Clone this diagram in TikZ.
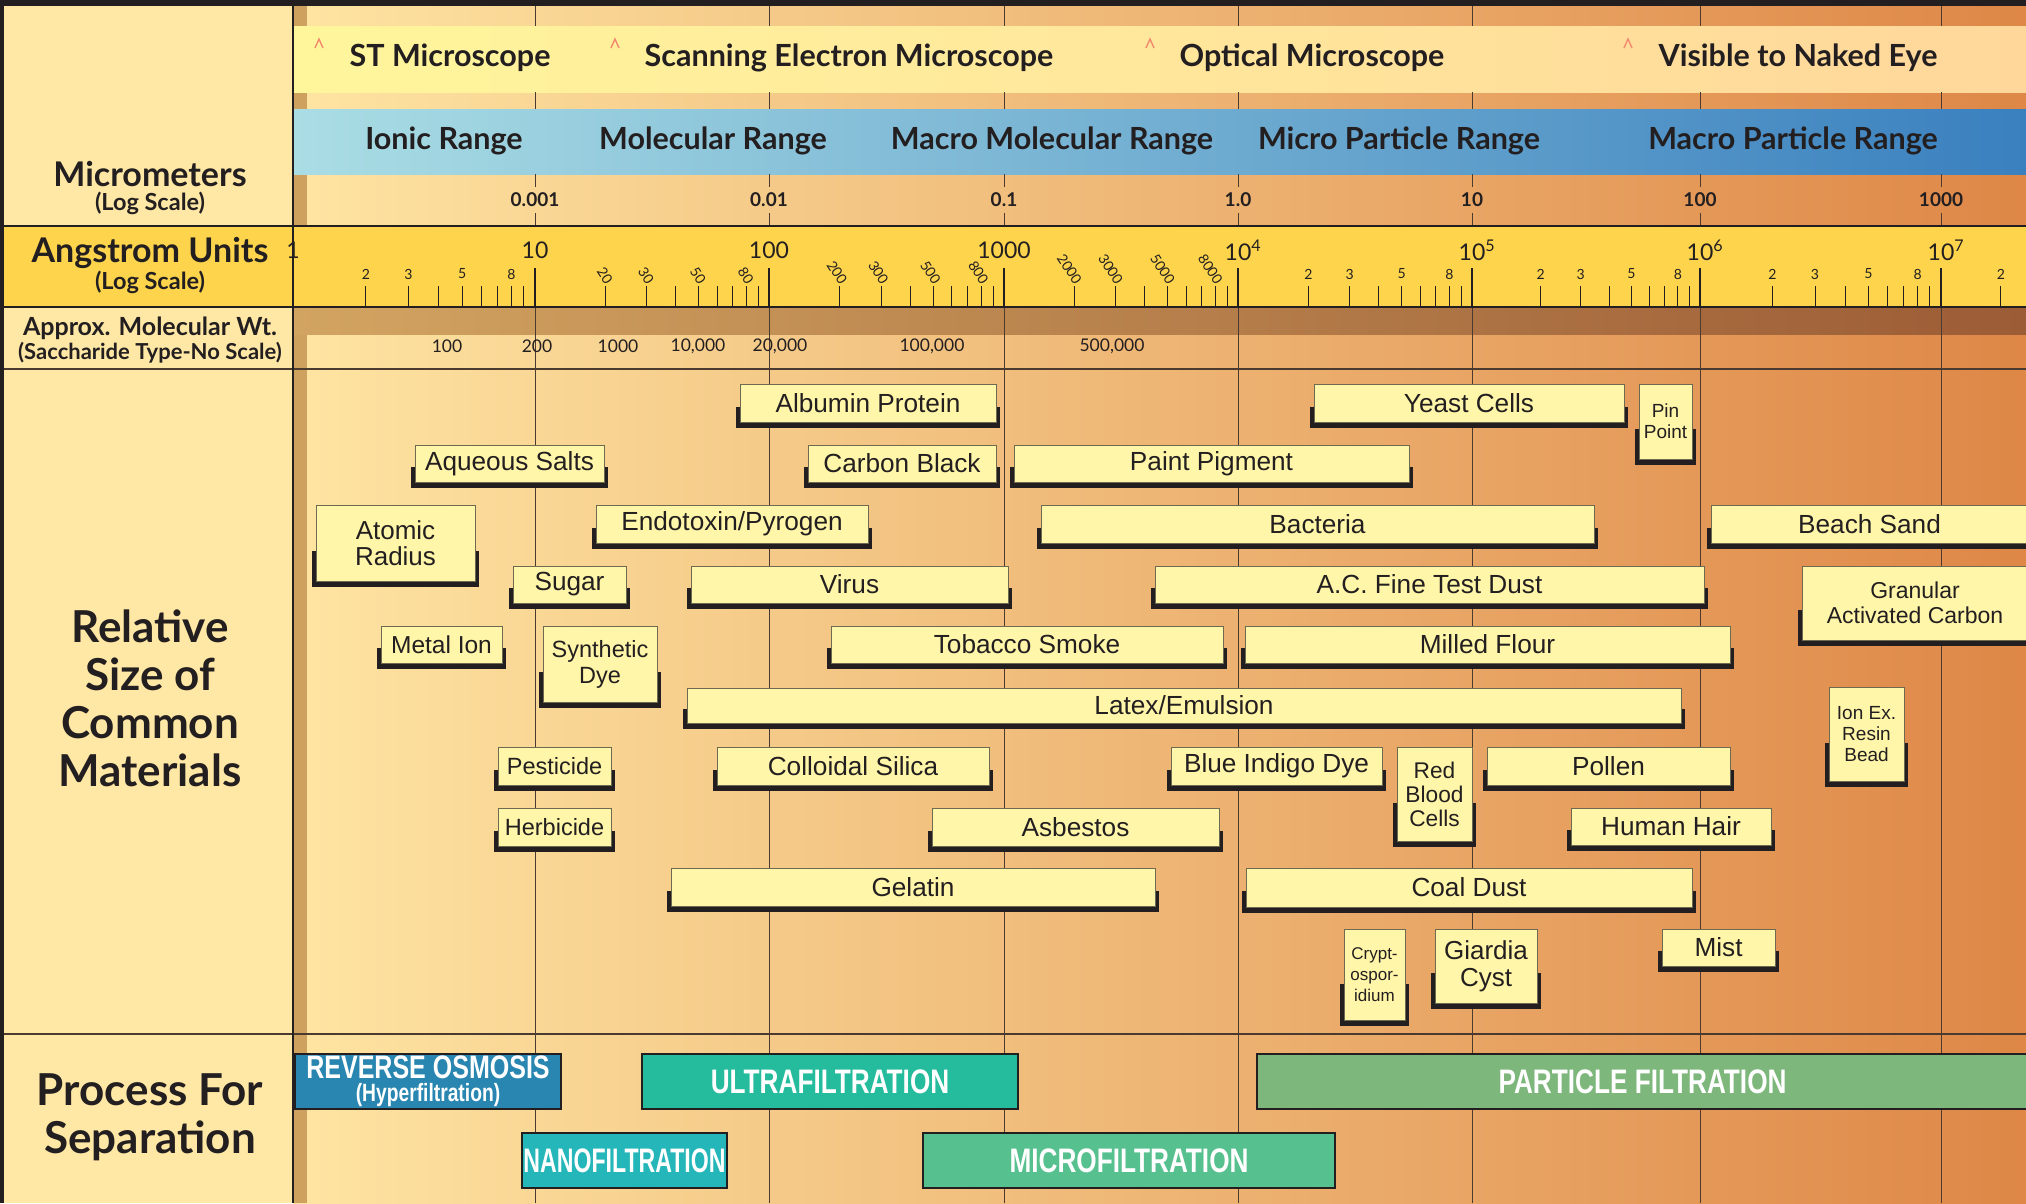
\documentclass[tikz,border=0pt]{standalone}
\usepackage{fontspec}
\setmainfont{Liberation Sans}
\newfontfamily\headfont{Lato}
\newfontfamily\procfont[FakeStretch=0.77]{Liberation Sans}
\newfontfamily\procnarrow[FakeStretch=0.68]{Liberation Sans}

\definecolor{framecol}{HTML}{231F20}
\definecolor{leftcol}{HTML}{FFE8A5}
\definecolor{stripcol}{HTML}{CFA15E}
\definecolor{angcol}{HTML}{FDD44C}
\definecolor{gridcol}{HTML}{4A3A30}
\definecolor{caretcol}{HTML}{F28B6E}
\definecolor{matfill}{HTML}{FFF6A9}
\definecolor{matline}{HTML}{6E6A50}
\definecolor{rocol}{HTML}{2886B1}
\definecolor{ufcol}{HTML}{24BC9C}
\definecolor{nfcol}{HTML}{24B6B9}
\definecolor{mfcol}{HTML}{57C08F}
\definecolor{pfcol}{HTML}{7DB77B}

\tikzset{
  headtxt/.style={font=\headfont\bfseries\fontsize{34}{36}\selectfont, text=framecol},
  subtxt/.style={font=\headfont\bfseries\fontsize{22}{24}\selectfont, text=framecol},
  bigtxt/.style={font=\headfont\bfseries\fontsize{44}{48}\selectfont, text=framecol, align=center},
  bandtxt/.style={font=\headfont\bfseries\fontsize{30.5}{32}\selectfont, text=framecol},
  numtxt/.style={font=\headfont\bfseries\fontsize{19}{20}\selectfont, text=framecol},
  angtxt/.style={font=\headfont\fontsize{23}{24}\selectfont, text=framecol},
  minortxt/.style={font=\headfont\fontsize{14}{15}\selectfont, text=framecol, inner sep=0pt},
  wttxt/.style={font=\headfont\fontsize{17.5}{18}\selectfont, text=framecol},
  gridline/.style={draw=gridcol, line width=1pt},
  tick/.style={draw=framecol, line width=1pt},
  majortick/.style={draw=framecol, line width=2.2pt},
  caret/.style={draw=caretcol, line width=1.4pt},
  matbox/.style={rectangle, draw=matline, line width=1pt, fill=matfill, inner sep=0pt,
    align=center, text=framecol, font=\fontsize{26.2}{27}\selectfont},
  procbox/.style={rectangle, draw=framecol, line width=2.5pt, inner sep=0pt, align=center,
    text=white, font=\procfont\bfseries\fontsize{34}{34}\selectfont},
}

% box with its dark drop shadow: [options]{name}{x1}{y1}{x2}{y2}{text}
\newcommand{\material}[7][]{%
  \fill[framecol] ({#3-4},{#4+0.6*(#6-#4)}) rectangle ({#5+4},{#6+6});
  \node[matbox, minimum width={(#5-#3)*1pt}, minimum height={(#6-#4)*1pt}, #1]
    (#2) at ({(#3+#5)/2},{(#4+#6)/2}) {#7};
}
\newcommand{\process}[7][]{%
  \node[procbox, minimum width={(#5-#3)*1pt}, minimum height={(#6-#4)*1pt}, #1]
    (#2) at ({(#3+#5)/2},{(#4+#6)/2}) {#7};
}

\begin{document}
\begin{tikzpicture}[x=1pt,y=-1pt]
\useasboundingbox (0,0) rectangle (2026,1203);
\clip (0,0) rectangle (2026,1203);

% backgrounds
\fill[leftcol] (0,0) rectangle (293,1203);
\shade[left color={rgb,255:red,254;green,228;blue,162}, middle color={rgb,255:red,237;green,181;blue,118},
  right color={rgb,255:red,222;green,135;blue,71}] (293,0) rectangle (2026,1203);
\fill[stripcol] (293,0) rectangle (307,1203);

% bands
\shade[left color={rgb,255:red,255;green,246;blue,156}, right color={rgb,255:red,255;green,215;blue,155}]
  (294,26) rectangle (2026,92);
\shade[left color={rgb,255:red,170;green,221;blue,228}, middle color={rgb,255:red,120;green,178;blue,212},
  right color={rgb,255:red,58;green,128;blue,191}] (294,109) rectangle (2026,174);
\fill[angcol] (0,226) rectangle (2026,307);
\shade[left color={rgb,255:red,210;green,164;blue,97}, right color={rgb,255:red,156;green,92;blue,54}]
  (293,307) rectangle (2026,334);

% decade lines
\foreach \x in {535,769,1004,1238,1472,1700,1941} {
  \draw[gridline] (\x,6) -- (\x,26) (\x,92) -- (\x,109) (\x,174) -- (\x,187)
    (\x,213) -- (\x,226) (\x,307) -- (\x,1203);
}
\draw[framecol, line width=2pt] (0,226) -- (2026,226) (0,307) -- (2026,307);
\draw[gridcol, line width=1.5pt] (0,369) -- (2026,369) (0,1034) -- (2026,1034);

% frame
\fill[framecol] (0,0) rectangle (2026,6);
\fill[framecol] (0,0) rectangle (4,1203);
\draw[framecol, line width=2.5pt] (293,0) -- (293,1203);

% microscope carets
\foreach \x in {319,615,1150,1628}
  \draw[caret] (\x-4,48) -- (\x,39) -- (\x+4,48);

% angstrom scale
\foreach \x in {293,535,769,1004,1238,1472,1700,1941}
  \draw[majortick] (\x,268) -- (\x,307);
\foreach \d/\xa/\xb in {0/293/535,1/535/769,2/769/1004,3/1004/1238,4/1238/1472,5/1472/1700,6/1700/1941,7/1941/2140} {
  \foreach \m in {2,...,9} {
    \pgfmathsetmacro\xt{\xa+log10(\m)*(\xb-\xa)}
    \draw[tick] (\xt,286) -- (\xt,307);
  }
}
\foreach \d/\xa/\xb in {0/293/535,4/1238/1472,5/1472/1700,6/1700/1941} {
  \foreach \m in {2,3,5,8} {
    \pgfmathsetmacro\xt{\xa+log10(\m)*(\xb-\xa)}
    \node[minortxt] (lbl\d\m) at (\xt,274) {\m};
  }
}
\node[minortxt] (lbl72) at (2001,274) {2};
\foreach \d/\xa/\xb/\z in {1/535/769/0,2/769/1004/00,3/1004/1238/000} {
  \foreach \m in {2,3,5,8} {
    \pgfmathsetmacro\xt{\xa+log10(\m)*(\xb-\xa)}
    \node[minortxt, rotate=-57, anchor=east] (lbl\d\m) at (\xt+4,283) {\m\z};
  }
}
\foreach \x/\t [count=\i] in {293/1, 535/10, 769/100, 1004/1000, 1238/10\rlap{\textsuperscript{4}},
    1472/10\rlap{\textsuperscript{5}}, 1700/10\rlap{\textsuperscript{6}}, 1941/10\rlap{\textsuperscript{7}}}
  \node[angtxt] (ang\i) at (\x,250) {\t};

% micrometer scale
\foreach \x/\t [count=\i] in {535/0.001, 769/0.01, 1004/0.1, 1238/1.0, 1472/10, 1700/100, 1941/1000}
  \node[numtxt] (um\i) at (\x,200) {\t};

% molecular weight
\foreach \x/\t [count=\i] in {447/100, 537/200, 618/1000, 698/{10,000}, 780/{20,000}, 932/{100,000}, 1112/{500,000}}
  \node[wttxt] (wt\i) at (\x,346) {\t};

% band texts
\node[bandtxt] (stm) at (450,58) {ST Microscope};
\node[bandtxt] (sem) at (849,58) {Scanning Electron Microscope};
\node[bandtxt] (optical) at (1312,58) {Optical Microscope};
\node[bandtxt] (naked) at (1798,58) {Visible to Naked Eye};
\node[bandtxt] (ionic) at (444,141) {Ionic Range};
\node[bandtxt] (molecular) at (713,141) {Molecular Range};
\node[bandtxt] (macromol) at (1052,141) {Macro Molecular Range};
\node[bandtxt] (micropart) at (1399,141) {Micro Particle Range};
\node[bandtxt] (macropart) at (1793,141) {Macro Particle Range};

% left column
\node[headtxt] (micro) at (150,174) {Micrometers};
\node[subtxt, font=\headfont\bfseries\fontsize{23.5}{24}\selectfont] (microsub) at (150,203) {(Log Scale)};
\node[headtxt] (angst) at (150,253) {Angstrom Units};
\node[subtxt, font=\headfont\bfseries\fontsize{23.5}{24}\selectfont] (angstsub) at (150,282) {(Log Scale)};
\node[subtxt, font=\headfont\bfseries\fontsize{25}{26}\selectfont] (molwt) at (150,328) {Approx. Molecular Wt.};
\node[subtxt] (molwtsub) at (150,353) {(Saccharide Type-No Scale)};
\node[bigtxt] (relsize) at (150,698) {Relative\\Size of\\Common\\Materials};
\node[bigtxt] (procsep) at (150,1117) {Process For\\Separation};

% materials
\material{albumin}{740}{384}{996}{422}{Albumin Protein}
\material{yeast}{1314}{384}{1624}{422}{Yeast Cells}
\material[font=\fontsize{19}{21}\selectfont]{pinpoint}{1639}{384}{1692}{459}{Pin\\Point}
\material{aqueous}{415}{445}{604}{482}{Aqueous Salts}
\material{carbon}{808}{445}{996}{482}{Carbon Black}
\material{paint}{1014}{445}{1409}{482}{Paint Pigment}
\material[font=\fontsize{26}{26}\selectfont]{atomic}{316}{505}{475}{581}{Atomic\\Radius}
\material{endotoxin}{596}{505}{868}{543}{Endotoxin/Pyrogen}
\material{bacteria}{1041}{505}{1594}{543}{Bacteria}
\material{beach}{1711}{505}{2028}{543}{Beach Sand}
\material{sugar}{513}{566}{626}{603}{Sugar}
\material{virus}{691}{566}{1008}{603}{Virus}
\material{acdust}{1155}{566}{1704}{603}{A.C. Fine Test Dust}
\material[font=\fontsize{23}{25}\selectfont]{granular}{1802}{566}{2028}{640}{Granular\\Activated Carbon}
\material[font=\fontsize{24.5}{26}\selectfont]{metal}{381}{626}{502}{663}{Metal Ion}
\material[font=\fontsize{23.5}{26}\selectfont]{synthetic}{543}{626}{657}{702}{Synthetic\\Dye}
\material{tobacco}{831}{626}{1223}{663}{Tobacco Smoke}
\material{milled}{1245}{626}{1730}{663}{Milled Flour}
\material{latex}{687}{688}{1681}{723}{Latex/Emulsion}
\material[font=\fontsize{19}{21}\selectfont]{ionex}{1829}{687}{1904}{781}{Ion Ex.\\Resin\\Bead}
\material[font=\fontsize{23.5}{24}\selectfont]{pesticide}{498}{747}{611}{785}{Pesticide}
\material{colloidal}{717}{747}{989}{785}{Colloidal Silica}
\material{indigo}{1171}{747}{1382}{785}{Blue Indigo Dye}
\material[font=\fontsize{22.7}{24}\selectfont]{rbc}{1397}{747}{1472}{841}{Red\\Blood\\Cells}
\material{pollen}{1487}{747}{1730}{785}{Pollen}
\material[font=\fontsize{23.5}{24}\selectfont]{herbicide}{498}{808}{611}{846}{Herbicide}
\material{asbestos}{932}{808}{1219}{846}{Asbestos}
\material{hair}{1571}{808}{1771}{845}{Human Hair}
\material{gelatin}{671}{868}{1155}{906}{Gelatin}
\material{coal}{1246}{868}{1692}{907}{Coal Dust}
\material[font=\fontsize{17}{21}\selectfont]{crypto}{1344}{929}{1405}{1020}{Crypt-\\ospor-\\idium}
\material[font=\fontsize{26}{27}\selectfont]{giardia}{1435}{929}{1537}{1003}{Giardia\\Cyst}
\material{mist}{1662}{929}{1775}{966}{Mist}

% separation processes
\process[fill=rocol, font=\procfont\bfseries\fontsize{32.5}{32}\selectfont]{ro}{295}{1054}{561}{1109}{REVERSE OSMOSIS\\[-9pt]{\fontsize{25}{25}\selectfont (Hyperfiltration)}}
\process[fill=ufcol]{uf}{642}{1054}{1018}{1109}{ULTRAFILTRATION}
\process[fill=pfcol]{pf}{1257}{1054}{2028}{1109}{PARTICLE FILTRATION}
\process[fill=nfcol, font=\procnarrow\bfseries\fontsize{34}{34}\selectfont]{nf}{522}{1133}{727}{1188}{NANOFILTRATION}
\process[fill=mfcol]{mf}{923}{1133}{1335}{1188}{MICROFILTRATION}
\end{tikzpicture}
\end{document}
